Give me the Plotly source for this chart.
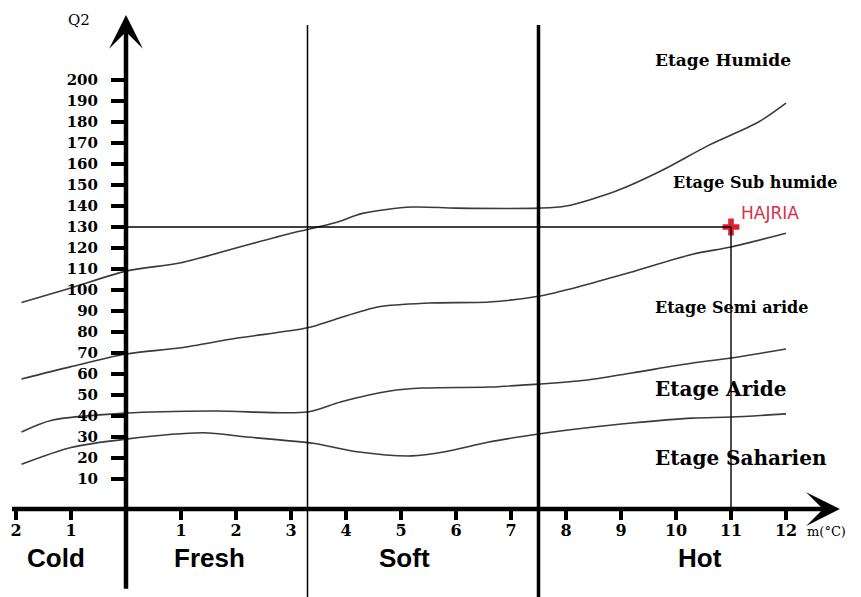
"""Climagramme d'Emberger : position de la station HAJRIA."""
import plotly.graph_objects as go

# limits between bioclimatic stages (m in °C, Q2)
humide_m = [-1.9, -1, 0, 1, 2, 3, 3.8, 4.3, 5.2, 6, 7.5, 8, 8.9, 9.75, 10.6, 11.5, 12]
humide_q2 = [94, 101, 109, 113, 120, 127, 132, 136.5, 139.5, 139, 139, 140, 147, 157, 169, 180, 189]

subhumide_m = [-1.9, -1, 0, 1, 2, 3.3, 3.8, 4.6, 5.5, 6.6, 7.5, 8.35, 9.2, 10.3, 11, 12]
subhumide_q2 = [57.6, 63.5, 69.5, 72.5, 77, 82, 86, 92, 93.8, 94.3, 97, 102.4, 108.6, 117, 120.5, 127]

semiaride_m = [-1.9, -1.35, 0, 1.6, 3.3, 3.9, 4.8, 5.4, 6.6, 7.5, 8.35, 9.2, 10.3, 11, 12]
semiaride_q2 = [32.4, 38, 41.4, 42.4, 41.9, 46.7, 51.9, 53.3, 53.8, 55.2, 57, 60.5, 65.2, 67.6, 71.9]

aride_m = [-1.9, -1, 0, 1.4, 2.2, 3.4, 4.2, 5.2, 5.8, 6.6, 7.5, 8.35, 9.2, 10.3, 11, 12]
aride_q2 = [17, 25, 29, 32, 30, 27, 23, 21, 23, 27.6, 31.4, 34.3, 36.7, 39, 39.5, 41]

station_name = "HAJRIA"
station_m = 11
station_q2 = 130

winter_limits = [3.3, 7.5]
winter_names = ["Cold", "Fresh", "Soft", "Hot"]
winter_name_m = [-1.27, 1.51, 5.07, 10.44]

stage_names = ["Etage Humide", "Etage Sub humide", "Etage Semi aride",
               "Etage Aride", "Etage Saharien"]
stage_name_m = [9.58, 9.9, 9.58, 9.58, 9.58]
stage_name_q2 = [209.5, 151.4, 91.9, 52.9, 20]
stage_name_size = [17, 16, 16, 20, 20]

m_ticks = [-2, -1, 1, 2, 3, 4, 5, 6, 7, 8, 9, 10, 11, 12]
m_ticktext = [str(abs(v)) for v in m_ticks]
q2_ticks = list(range(10, 201, 10))

# ---- layout constants ----
_W, _H = 861, 597
_PX_M = 55.0        # px per °C
_X0_PX = 126        # px of m = 0
_PX_Q = 2.1         # px per Q2 unit
_Q200_PX = 80       # px of Q2 = 200
_XAXIS_Q2 = -4.3    # the m axis sits a little below Q2 = 0
_CURVE = "#3a3a3a"
_RED = "#e0202a"
_SERIF = "DejaVu Serif"
_SANS = "Liberation Sans"

x_min = -_X0_PX / _PX_M
x_max = (_W - _X0_PX) / _PX_M
y_max = 200 + _Q200_PX / _PX_Q
y_min = 200 - (_H - _Q200_PX) / _PX_Q

fig = go.Figure()

for xs, ys in [(humide_m, humide_q2), (subhumide_m, subhumide_q2),
               (semiaride_m, semiaride_q2), (aride_m, aride_q2)]:
    fig.add_trace(go.Scatter(
        x=xs, y=ys, mode="lines",
        line=dict(color=_CURVE, width=1.6, shape="spline", smoothing=0.8),
        hoverinfo="skip",
    ))

# winter variant limits
for m, w in zip(winter_limits, [1.5, 3.5]):
    fig.add_shape(type="line", xref="x", yref="paper", x0=m, x1=m,
                  y0=0, y1=0.958, line=dict(color="black", width=w))

# guide lines to the station
fig.add_shape(type="line", x0=0, x1=station_m, y0=station_q2, y1=station_q2,
              line=dict(color="black", width=1.4))
fig.add_shape(type="line", x0=station_m, x1=station_m, y0=station_q2, y1=_XAXIS_Q2,
              line=dict(color="black", width=1.4))

fig.add_trace(go.Scatter(
    x=[station_m], y=[station_q2], mode="markers",
    marker=dict(symbol="cross", size=14, color=_RED),
    hoverinfo="skip",
))
fig.add_annotation(x=station_m, y=station_q2, text=station_name, showarrow=False,
                   xanchor="left", yanchor="bottom", xshift=8, yshift=2,
                   font=dict(family="DejaVu Sans", size=17, color="#d6304a"))

# axes drawn as arrows
fig.add_annotation(x=12.98, y=_XAXIS_Q2, ax=-2.1, ay=_XAXIS_Q2,
                   xref="x", yref="y", axref="x", ayref="y", text="",
                   showarrow=True, arrowhead=3, arrowsize=1.25, arrowwidth=4.5,
                   arrowcolor="black")
fig.add_annotation(x=0, y=231, ax=0, ay=-43,
                   xref="x", yref="y", axref="x", ayref="y", text="",
                   showarrow=True, arrowhead=3, arrowsize=1.25, arrowwidth=4.5,
                   arrowcolor="black")

fig.add_annotation(x=-0.85, y=228.6, text="Q2", showarrow=False,
                   font=dict(family=_SERIF, size=15, color="black"))
fig.add_annotation(x=12.35, y=-15.2, text="m(°C)", showarrow=False, xanchor="left",
                   font=dict(family=_SERIF, size=13, color="black"))

for name, m in zip(winter_names, winter_name_m):
    fig.add_annotation(x=m, y=-27.5, text=name, showarrow=False,
                       font=dict(family=_SANS, size=26, color="black", weight="bold"))

for name, m, q, s in zip(stage_names, stage_name_m, stage_name_q2, stage_name_size):
    fig.add_annotation(x=m, y=q, text=name, showarrow=False, xanchor="left",
                       font=dict(family=_SERIF, size=s, color="black", weight="bold"))

fig.update_layout(
    width=_W, height=_H,
    margin=dict(l=0, r=0, t=0, b=0),
    plot_bgcolor="white", paper_bgcolor="white",
    showlegend=False,
    xaxis=dict(
        range=[x_min, x_max], anchor="free",
        position=(_XAXIS_Q2 - y_min) / (y_max - y_min),
        tickvals=m_ticks, ticktext=m_ticktext,
        ticks="outside", ticklen=10, tickwidth=4, tickcolor="black",
        ticklabelstandoff=-3,
        tickfont=dict(family=_SERIF, size=16, color="black", weight="bold"),
        showgrid=False, zeroline=False, showline=False,
    ),
    yaxis=dict(
        range=[y_min, y_max], anchor="free",
        position=(0 - x_min) / (x_max - x_min),
        tickvals=q2_ticks,
        ticks="outside", ticklen=15, tickwidth=4, tickcolor="black",
        ticklabelstandoff=10,
        tickfont=dict(family=_SERIF, size=15, color="black", weight="bold"),
        showgrid=False, zeroline=False, showline=False,
    ),
)

fig.write_html("out.html", config={"displayModeBar": False},
               post_script="document.body.style.margin='0';")
